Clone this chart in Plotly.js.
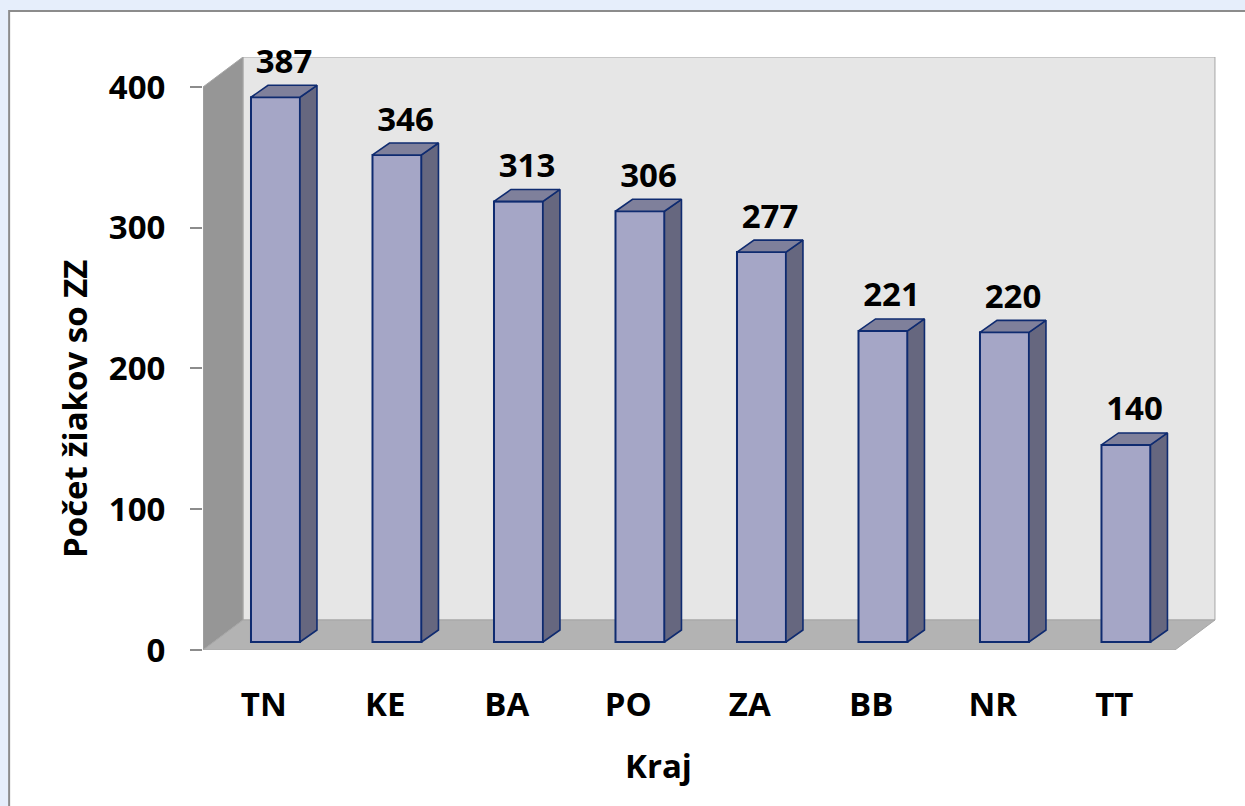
<!DOCTYPE html>
<html>
<head>
<meta charset="utf-8">
<script src="https://cdn.plot.ly/plotly-3.0.1.min.js"></script>
<style>html,body{margin:0;padding:0;background:#e6eefb;}#chart{width:1245px;height:806px;}</style>
</head>
<body>
<div id="chart"></div>
<script>
// ---- data ----
const categories = ['TN', 'KE', 'BA', 'PO', 'ZA', 'BB', 'NR', 'TT'];
const values = [387, 346, 313, 306, 277, 221, 220, 140];
const yTicks = [0, 100, 200, 300, 400];
const xTitle = 'Kraj';
const yTitle = 'Počet žiakov so ZZ';

// ---- 3D look geometry (axis units) ----
const barBase = 5.7;        // bars stand at mid-depth of the floor
const barOffset = -0.105;   // left edge of the front face relative to category
const barWidth = 0.403;
const depthX = 0.14, depthY = 8.5;      // bar depth
const wallDX = 0.329, wallDY = 21.3;    // wall/floor depth
const wallTop = 400;
const labelGap = 3;
const xMin = -0.5, xMax = 7.854, yMax = 421.3;

const idx = categories.map((c, i) => i);
const sideX = [], sideY = [], topX = [], topY = [], lblX = [], lblY = [];
values.forEach((v, i) => {
  const xl = i + barOffset, xr = xl + barWidth, yb = barBase, yt = barBase + v;
  sideX.push(xr, xr + depthX, xr + depthX, xr, xr, null);
  sideY.push(yb, yb + depthY, yt + depthY, yt, yb, null);
  topX.push(xl, xr, xr + depthX, xl + depthX, xl, null);
  topY.push(yt, yt, yt + depthY, yt + depthY, yt, null);
  lblX.push(xl + (barWidth + depthX) / 2);
  lblY.push(yt + depthY + labelGap);
});

const font = {family: '"Open Sans", "Liberation Sans", sans-serif', size: 33, color: '#000000', weight: 700};
const edge = '#0f2b70';

const traces = [
  {type: 'bar', x: idx, y: values, base: barBase, offset: barOffset, width: barWidth,
   marker: {color: '#a5a6c6', line: {color: edge, width: 2}}, hoverinfo: 'skip', showlegend: false},
  {type: 'scatter', mode: 'lines', x: sideX, y: sideY, fill: 'toself', fillcolor: '#66677f',
   line: {color: edge, width: 1.6}, hoverinfo: 'skip', showlegend: false},
  {type: 'scatter', mode: 'lines', x: topX, y: topY, fill: 'toself', fillcolor: '#7f809b',
   line: {color: edge, width: 1.6}, hoverinfo: 'skip', showlegend: false},
  {type: 'scatter', mode: 'text', x: lblX, y: lblY, text: values.map(String), textposition: 'top center',
   textfont: font, cliponaxis: false, hoverinfo: 'skip', showlegend: false}
];

const wallLine = {color: '#a6a6a6', width: 1};
const shapes = [
  {type: 'rect', xref: 'paper', yref: 'paper', x0: -0.191, x1: 1.05, y0: -0.3, y1: 1.0776,
   fillcolor: '#ffffff', line: {color: '#8c8c8c', width: 2}, layer: 'below'},
  {type: 'path', xref: 'x', yref: 'y', layer: 'below', fillcolor: '#e6e6e6', line: wallLine,
   path: `M ${xMin + wallDX},${wallDY} L ${xMin + wallDX},${wallTop + wallDY} L ${7.5 + wallDX},${wallTop + wallDY} L ${7.5 + wallDX},${wallDY} Z`},
  {type: 'path', xref: 'x', yref: 'y', layer: 'below', fillcolor: '#969696', line: wallLine,
   path: `M ${xMin},0 L ${xMin},${wallTop} L ${xMin + wallDX},${wallTop + wallDY} L ${xMin + wallDX},${wallDY} Z`},
  {type: 'path', xref: 'x', yref: 'y', layer: 'below', fillcolor: '#b3b3b3', line: wallLine,
   path: `M ${xMin},0 L 7.5,0 L ${7.5 + wallDX},${wallDY} L ${xMin + wallDX},${wallDY} Z`}
];

// axis titles placed like the original (paper coordinates of the plot area 203..1218 x 57..650 px)
const annotations = [
  {text: xTitle, xref: 'paper', yref: 'paper', x: (658 - 203) / 1015, y: (650 - 765) / 593,
   xanchor: 'center', yanchor: 'middle', showarrow: false, font: font},
  {text: yTitle, xref: 'paper', yref: 'paper', x: (74 - 203) / 1015, y: (650 - 409) / 593,
   xanchor: 'center', yanchor: 'middle', textangle: -90, showarrow: false, font: font}
];

const layout = {
  width: 1245, height: 806,
  margin: {l: 203, r: 27, t: 57, b: 156},
  paper_bgcolor: '#e6eefb', plot_bgcolor: 'rgba(0,0,0,0)',
  font: font,
  showlegend: false,
  bargap: 0,
  xaxis: {range: [xMin, xMax], tickvals: idx, ticktext: categories, showgrid: false, zeroline: false,
          showline: false, ticks: '', ticklabelstandoff: 32, tickfont: font, fixedrange: true},
  yaxis: {range: [0, yMax], tickvals: yTicks, showgrid: false, zeroline: false, showline: false,
          ticks: 'outside', ticklen: 12, tickcolor: '#8c8c8c', tickwidth: 2, ticklabelstandoff: 18,
          tickfont: font, fixedrange: true},
  shapes: shapes,
  annotations: annotations
};

Plotly.newPlot('chart', traces, layout, {staticPlot: true, displayModeBar: false});
</script>
</body>
</html>
